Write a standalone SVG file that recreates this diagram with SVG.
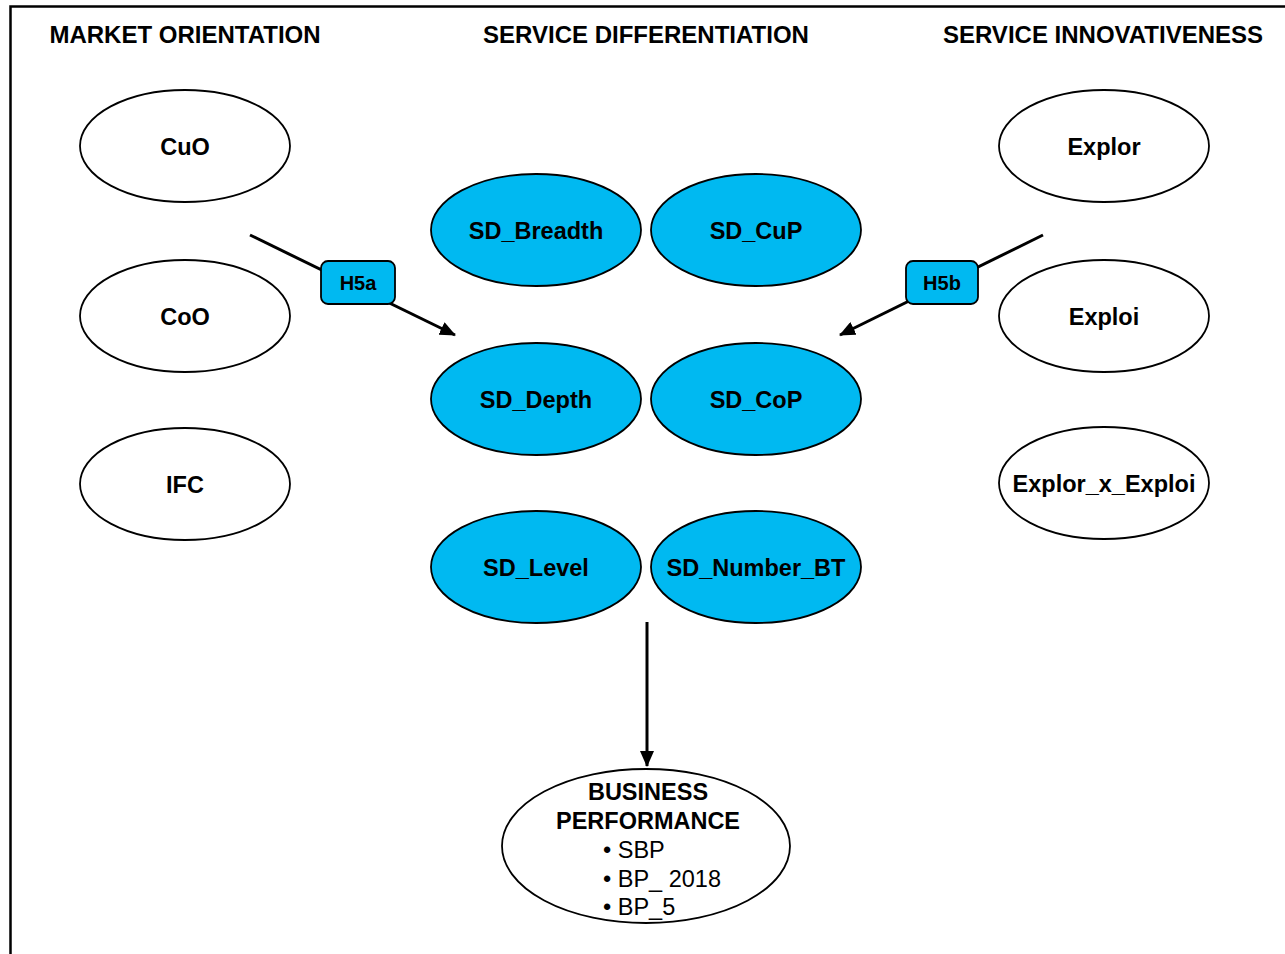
<svg xmlns="http://www.w3.org/2000/svg" width="1285" height="954" viewBox="0 0 1285 954">
<style>
.hdr{font-family:"Liberation Sans",Arial,sans-serif;font-weight:bold;font-size:24px;text-anchor:middle;fill:#000}
.lbl{font-family:"Liberation Sans",Arial,sans-serif;font-weight:bold;font-size:23.5px;text-anchor:middle;fill:#000}
.wn{fill:#fff;stroke:#000;stroke-width:1.8}
.bn{fill:#00B9F1;stroke:#000;stroke-width:1.8}
.hb{fill:#00B9F1;stroke:#000;stroke-width:1.8}
.hl{font-family:"Liberation Sans",Arial,sans-serif;font-weight:bold;font-size:20px;text-anchor:middle;fill:#000}
.reg{font-family:"Liberation Sans",Arial,sans-serif;font-size:23.5px;fill:#000}
.con{stroke:#000;stroke-width:3;fill:none}
</style>
<defs>
<marker id="arr" markerUnits="userSpaceOnUse" markerWidth="16" markerHeight="14" refX="15" refY="7" orient="auto">
<path d="M0,0 L16,7 L0,14 Z" fill="#000"/>
</marker>
</defs>
<rect x="0" y="0" width="1285" height="954" fill="#fff"/>
<path d="M10.5,954 V6.5 H1285" fill="none" stroke="#000" stroke-width="2.5"/>
<g id="headers">
<text class="hdr" x="185" y="43">MARKET ORIENTATION</text>
<text class="hdr" x="646" y="43">SERVICE DIFFERENTIATION</text>
<text class="hdr" x="1103" y="43">SERVICE INNOVATIVENESS</text>
</g>
<g id="connectors">
<line class="con" x1="250" y1="235" x2="455" y2="335" marker-end="url(#arr)"/>
<line class="con" x1="1043" y1="235" x2="840" y2="335" marker-end="url(#arr)"/>
<line class="con" x1="647" y1="622" x2="647" y2="766" marker-end="url(#arr)"/>
</g>
<g id="CuO"><ellipse class="wn" cx="185" cy="146" rx="105" ry="56"/><text class="lbl" x="185" y="155">CuO</text></g>
<g id="CoO"><ellipse class="wn" cx="185" cy="316" rx="105" ry="56"/><text class="lbl" x="185" y="325">CoO</text></g>
<g id="IFC"><ellipse class="wn" cx="185" cy="484" rx="105" ry="56"/><text class="lbl" x="185" y="493">IFC</text></g>
<g id="Explor"><ellipse class="wn" cx="1104" cy="146" rx="105" ry="56"/><text class="lbl" x="1104" y="155">Explor</text></g>
<g id="Exploi"><ellipse class="wn" cx="1104" cy="316" rx="105" ry="56"/><text class="lbl" x="1104" y="325">Exploi</text></g>
<g id="Explor_x_Exploi"><ellipse class="wn" cx="1104" cy="483" rx="105" ry="56"/><text class="lbl" x="1104" y="492">Explor_x_Exploi</text></g>
<g id="SD_Breadth"><ellipse class="bn" cx="536" cy="230" rx="105" ry="56"/><text class="lbl" x="536" y="239">SD_Breadth</text></g>
<g id="SD_CuP"><ellipse class="bn" cx="756" cy="230" rx="105" ry="56"/><text class="lbl" x="756" y="239">SD_CuP</text></g>
<g id="SD_Depth"><ellipse class="bn" cx="536" cy="399" rx="105" ry="56"/><text class="lbl" x="536" y="408">SD_Depth</text></g>
<g id="SD_CoP"><ellipse class="bn" cx="756" cy="399" rx="105" ry="56"/><text class="lbl" x="756" y="408">SD_CoP</text></g>
<g id="SD_Level"><ellipse class="bn" cx="536" cy="567" rx="105" ry="56"/><text class="lbl" x="536" y="576">SD_Level</text></g>
<g id="SD_Number_BT"><ellipse class="bn" cx="756" cy="567" rx="105" ry="56"/><text class="lbl" x="756" y="576">SD_Number_BT</text></g>
<g id="H5a"><rect class="hb" x="321" y="261" width="74" height="43" rx="7"/><text class="hl" x="358" y="290">H5a</text></g>
<g id="H5b"><rect class="hb" x="906" y="261" width="72" height="43" rx="7"/><text class="hl" x="942" y="290">H5b</text></g>
<g id="BusinessPerformance">
<ellipse class="wn" cx="646" cy="846" rx="144" ry="77"/>
<text class="lbl" x="648" y="800">BUSINESS</text>
<text class="lbl" x="648" y="829">PERFORMANCE</text>
<text class="reg" x="603" y="858">• SBP</text>
<text class="reg" x="603" y="887">• BP_ 2018</text>
<text class="reg" x="603" y="915">• BP_5</text>
</g>
</svg>
